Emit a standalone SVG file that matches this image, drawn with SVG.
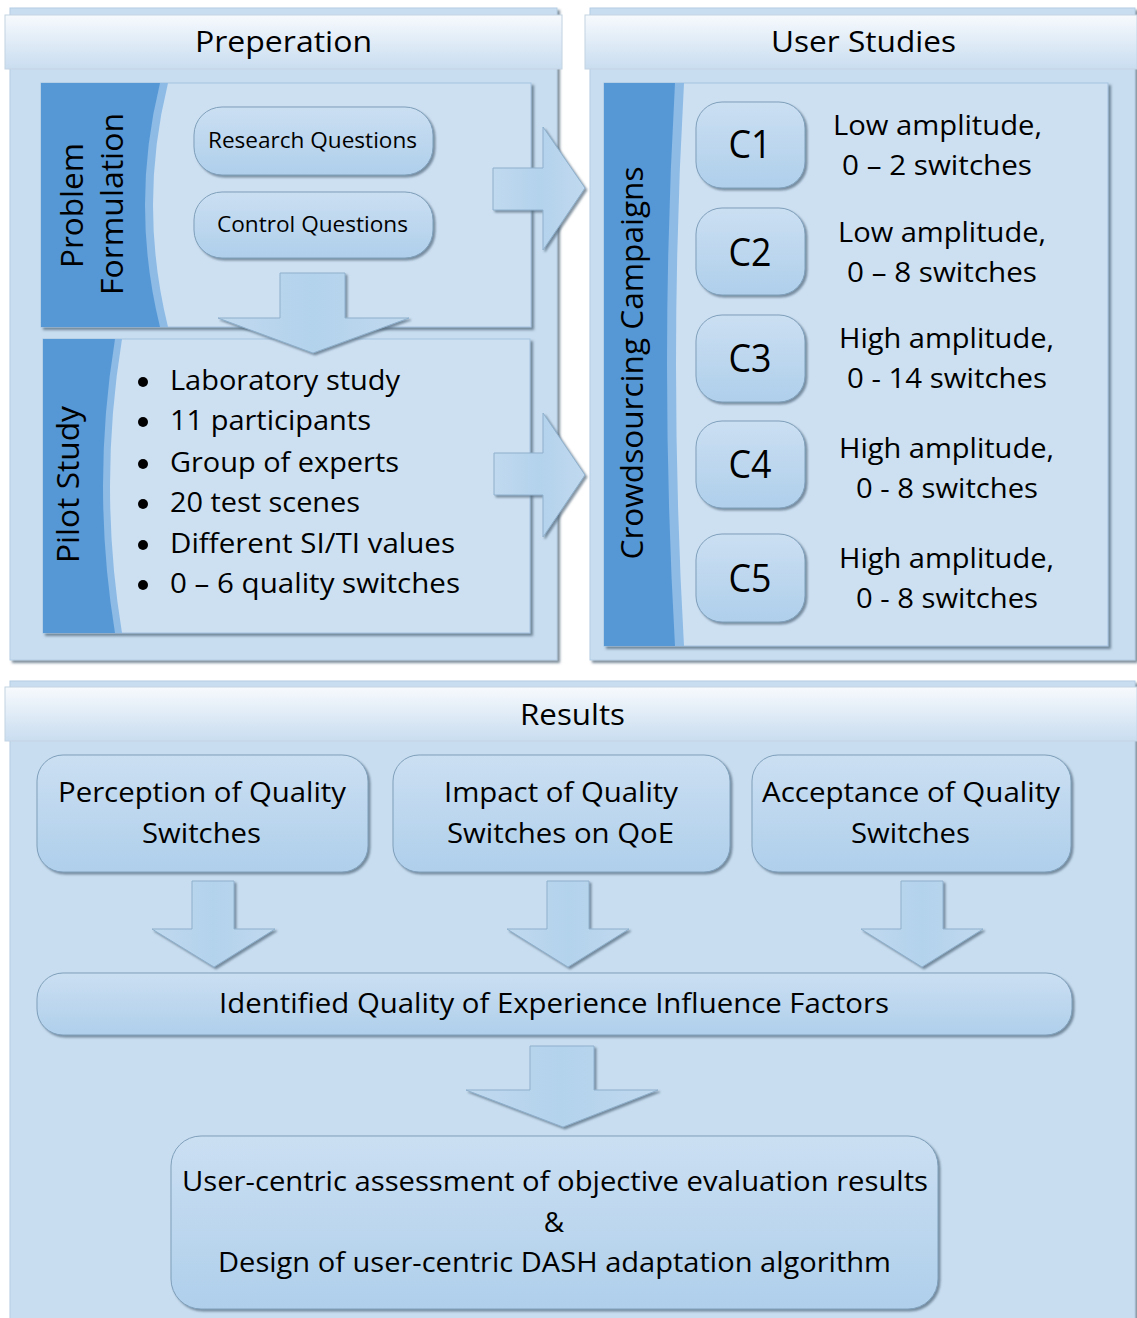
<svg xmlns="http://www.w3.org/2000/svg" width="1137" height="1318" viewBox="0 0 1137 1318">
  <defs>
    <linearGradient id="hdr" x1="0" y1="0" x2="0" y2="1">
      <stop offset="0" stop-color="#f7fafd"/>
      <stop offset="1" stop-color="#c9ddf0"/>
    </linearGradient>
    <linearGradient id="pill" x1="0" y1="0" x2="0" y2="1">
      <stop offset="0" stop-color="#cbdff2"/>
      <stop offset="1" stop-color="#afcfeb"/>
    </linearGradient>
    <linearGradient id="arr" x1="0" y1="0" x2="1" y2="0">
      <stop offset="0" stop-color="#c0d9ef"/>
      <stop offset="0.5" stop-color="#b3d2ec"/>
      <stop offset="1" stop-color="#c0d9ef"/>
    </linearGradient>
    <filter id="sh" x="-10%" y="-10%" width="120%" height="120%">
      <feDropShadow dx="2.5" dy="2.5" stdDeviation="0.8" flood-color="#52697c" flood-opacity="0.75"/>
    </filter>
    <filter id="shs" x="-10%" y="-10%" width="120%" height="120%">
      <feDropShadow dx="2" dy="2" stdDeviation="0.8" flood-color="#52697c" flood-opacity="0.7"/>
    </filter>
  </defs>
  <style>
    .panel { fill: #c8ddf0; stroke: #b4cde4; stroke-width: 1; filter: url(#sh); }
    .hdr { fill: url(#hdr); stroke: #c3d3e2; stroke-width: 1; }
    .box { fill: #cde0f2; stroke: #a3c3df; stroke-width: 1; filter: url(#sh); }
    .band { fill: #5698d6; }
    .strip { fill: #8dbbe6; }
    .pill { fill: url(#pill); stroke: #7f9fba; stroke-width: 1; filter: url(#shs); }
    .arrow { fill: url(#arr); stroke: #8fb0cc; stroke-width: 1; filter: url(#shs); }
    text { font-family: "Open Sans", "Noto Sans", "DejaVu Sans", sans-serif; fill: #000; }
    .h { font-size: 30px; text-anchor: middle; }
    .v { font-size: 31px; text-anchor: middle; }
    .q { font-size: 22px; text-anchor: middle; }
    .b { font-size: 28px; }
    .c { font-size: 38px; text-anchor: middle; }
    .d { font-size: 28px; text-anchor: middle; }
    .r { font-size: 28px; text-anchor: middle; }
  </style>

  <!-- Preparation panel -->
  <g id="preparation">
    <rect class="panel" x="10" y="8" width="547" height="652"/>
    <rect class="hdr" x="5" y="15" width="557" height="54"/>
    <text class="h" x="283.5" y="52" textLength="177" lengthAdjust="spacingAndGlyphs">Preperation</text>
  </g>

  <g id="problem-formulation">
    <rect class="box" x="41" y="83" width="490" height="244"/>
    <path class="strip" d="M41,83 H168 Q138,205 168,327 H41 Z"/>
    <path class="band" d="M41,83 H160 Q130,205 160,327 H41 Z"/>
    <text class="v" x="72" y="216.5" transform="rotate(-90 72 205.5)" textLength="125" lengthAdjust="spacingAndGlyphs">Problem</text>
    <text class="v" x="112" y="215" transform="rotate(-90 112 204)" textLength="182" lengthAdjust="spacingAndGlyphs">Formulation</text>
  </g>

  <g id="research-questions">
    <rect class="pill" x="194" y="107" width="239" height="68" rx="28"/>
    <text class="q" x="312.5" y="148" textLength="209" lengthAdjust="spacingAndGlyphs">Research Questions</text>
  </g>

  <g id="control-questions">
    <rect class="pill" x="194" y="192" width="239" height="66" rx="28"/>
    <text class="q" x="312.5" y="232" textLength="191" lengthAdjust="spacingAndGlyphs">Control Questions</text>
  </g>

  <g id="pilot-study">
    <rect class="box" x="43" y="339" width="487" height="294"/>
    <path class="strip" d="M43,339 H122 Q98,486 122,633 H43 Z"/>
    <path class="band" d="M43,339 H115 Q91,486 115,633 H43 Z"/>
    <text class="v" x="68" y="495.5" transform="rotate(-90 68 484.5)" textLength="157" lengthAdjust="spacingAndGlyphs">Pilot Study</text>
    <g fill="#000">
      <circle cx="143" cy="382" r="5"/>
      <circle cx="143" cy="422" r="5"/>
      <circle cx="143" cy="464" r="5"/>
      <circle cx="143" cy="504" r="5"/>
      <circle cx="143" cy="545" r="5"/>
      <circle cx="143" cy="585" r="5"/>
    </g>
    <text class="b" x="170" y="390" textLength="230" lengthAdjust="spacingAndGlyphs">Laboratory study</text>
    <text class="b" x="170" y="430" textLength="201" lengthAdjust="spacingAndGlyphs">11 participants</text>
    <text class="b" x="170" y="472" textLength="229" lengthAdjust="spacingAndGlyphs">Group of experts</text>
    <text class="b" x="170" y="512" textLength="190" lengthAdjust="spacingAndGlyphs">20 test scenes</text>
    <text class="b" x="170" y="553" textLength="285" lengthAdjust="spacingAndGlyphs">Different SI/TI values</text>
    <text class="b" x="170" y="593" textLength="290" lengthAdjust="spacingAndGlyphs">0 – 6 quality switches</text>
  </g>

  <!-- User studies panel -->
  <g id="user-studies">
    <rect class="panel" x="590" y="8" width="545" height="652"/>
    <rect class="hdr" x="585" y="15" width="552" height="54"/>
    <text class="h" x="863.5" y="52" textLength="185" lengthAdjust="spacingAndGlyphs">User Studies</text>
  </g>

  <g id="crowdsourcing-campaigns">
    <rect class="box" x="604" y="83" width="504" height="563"/>
    <path class="strip" d="M604,83 H684 Q668,365 684,646 H604 Z"/>
    <path class="band" d="M604,83 H675 Q659,365 675,646 H604 Z"/>
    <text class="v" x="632" y="374" transform="rotate(-90 632 363)" textLength="393" lengthAdjust="spacingAndGlyphs">Crowdsourcing Campaigns</text>
  </g>

  <g id="c1">
    <rect class="pill" x="696" y="102" width="109" height="86" rx="26"/>
    <text class="c" x="750" y="158" textLength="43" lengthAdjust="spacingAndGlyphs">C1</text>
    <text class="d" x="937.5" y="135" textLength="209" lengthAdjust="spacingAndGlyphs">Low amplitude,</text>
    <text class="d" x="937" y="175" textLength="190" lengthAdjust="spacingAndGlyphs">0 – 2 switches</text>
  </g>
  <g id="c2">
    <rect class="pill" x="696" y="208" width="109" height="87" rx="26"/>
    <text class="c" x="750" y="266" textLength="43" lengthAdjust="spacingAndGlyphs">C2</text>
    <text class="d" x="942" y="242" textLength="208" lengthAdjust="spacingAndGlyphs">Low amplitude,</text>
    <text class="d" x="942" y="282" textLength="190" lengthAdjust="spacingAndGlyphs">0 – 8 switches</text>
  </g>
  <g id="c3">
    <rect class="pill" x="696" y="315" width="109" height="87" rx="26"/>
    <text class="c" x="750" y="372" textLength="43" lengthAdjust="spacingAndGlyphs">C3</text>
    <text class="d" x="946.5" y="348" textLength="215" lengthAdjust="spacingAndGlyphs">High amplitude,</text>
    <text class="d" x="947" y="388" textLength="200" lengthAdjust="spacingAndGlyphs">0 - 14 switches</text>
  </g>
  <g id="c4">
    <rect class="pill" x="696" y="421" width="109" height="87" rx="26"/>
    <text class="c" x="750" y="478" textLength="43" lengthAdjust="spacingAndGlyphs">C4</text>
    <text class="d" x="946.5" y="458" textLength="215" lengthAdjust="spacingAndGlyphs">High amplitude,</text>
    <text class="d" x="947" y="498" textLength="182" lengthAdjust="spacingAndGlyphs">0 - 8 switches</text>
  </g>
  <g id="c5">
    <rect class="pill" x="696" y="534" width="109" height="88" rx="26"/>
    <text class="c" x="750" y="592" textLength="43" lengthAdjust="spacingAndGlyphs">C5</text>
    <text class="d" x="946.5" y="568" textLength="215" lengthAdjust="spacingAndGlyphs">High amplitude,</text>
    <text class="d" x="947" y="608" textLength="182" lengthAdjust="spacingAndGlyphs">0 - 8 switches</text>
  </g>

  <!-- Results panel -->
  <g id="results">
    <rect class="panel" x="10" y="681" width="1125" height="645"/>
    <rect class="hdr" x="5" y="687" width="1132" height="54"/>
    <text class="h" x="572.5" y="725" textLength="105" lengthAdjust="spacingAndGlyphs">Results</text>
  </g>

  <g id="perception">
    <rect class="pill" x="37" y="755" width="331" height="117" rx="26"/>
    <text class="r" x="202" y="802" textLength="288" lengthAdjust="spacingAndGlyphs">Perception of Quality</text>
    <text class="r" x="201.5" y="843" textLength="119" lengthAdjust="spacingAndGlyphs">Switches</text>
  </g>
  <g id="impact">
    <rect class="pill" x="393" y="755" width="337" height="117" rx="26"/>
    <text class="r" x="561" y="802" textLength="234" lengthAdjust="spacingAndGlyphs">Impact of Quality</text>
    <text class="r" x="560.5" y="843" textLength="227" lengthAdjust="spacingAndGlyphs">Switches on QoE</text>
  </g>
  <g id="acceptance">
    <rect class="pill" x="752" y="755" width="319" height="117" rx="26"/>
    <text class="r" x="911" y="802" textLength="298" lengthAdjust="spacingAndGlyphs">Acceptance of Quality</text>
    <text class="r" x="910.5" y="843" textLength="119" lengthAdjust="spacingAndGlyphs">Switches</text>
  </g>

  <g id="influence-factors">
    <rect class="pill" x="37" y="973" width="1035" height="62" rx="26"/>
    <text class="r" x="554" y="1013" textLength="670" lengthAdjust="spacingAndGlyphs">Identified Quality of Experience Influence Factors</text>
  </g>

  <g id="outcome">
    <rect class="pill" x="171" y="1136" width="767" height="173" rx="30"/>
    <text class="r" x="555" y="1191" textLength="746" lengthAdjust="spacingAndGlyphs">User-centric assessment of objective evaluation results</text>
    <text class="r" x="554" y="1232">&amp;</text>
    <text class="r" x="554.5" y="1272" textLength="673" lengthAdjust="spacingAndGlyphs">Design of user-centric DASH adaptation algorithm</text>
  </g>

  <!-- Block arrows connecting the stages -->
  <g id="connectors">
    <polygon class="arrow" points="280,273 345,273 345,318 409,318 313,353 218,318 280,318"/>
    <polygon class="arrow" points="493,168 543,168 543,127 585,188 543,250 543,210 493,210"/>
    <polygon class="arrow" points="494,453 543,453 543,413 585,475 543,537 543,495 494,495"/>
    <polygon class="arrow" points="192,881 234,881 234,929 275,929 214,967 152,929 192,929"/>
    <polygon class="arrow" points="547,881 589,881 589,929 629,929 568,967 507,929 547,929"/>
    <polygon class="arrow" points="901,881 943,881 943,929 983,929 922,967 861,929 901,929"/>
    <polygon class="arrow" points="530,1046 594,1046 594,1090 658,1090 563,1127 466,1090 530,1090"/>
  </g>
</svg>
